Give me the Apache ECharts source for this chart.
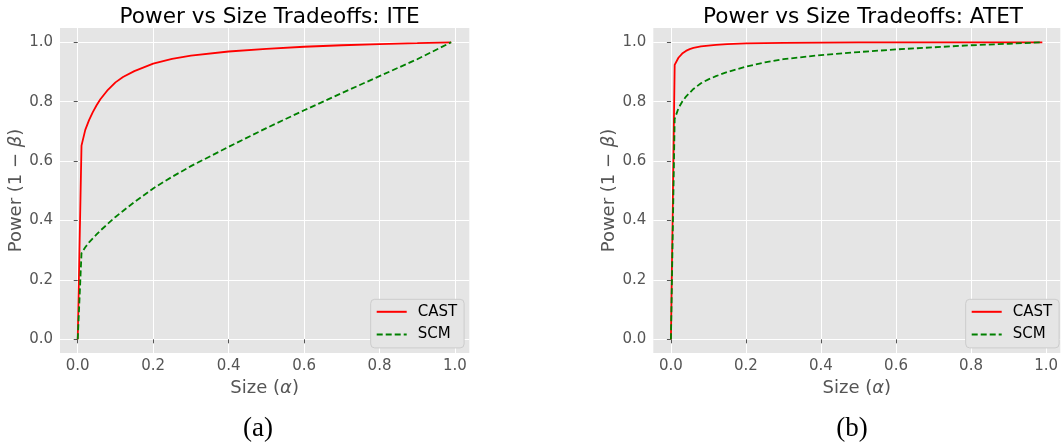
<!DOCTYPE html>
<html><head><meta charset="utf-8">
<script src="https://cdn.jsdelivr.net/npm/echarts@6/dist/echarts.min.js"></script>
<style>html,body{margin:0;padding:0;background:#fff}#c{width:1061px;height:444px}</style>
</head><body><div id="c"></div>
<script>
// Size (alpha) grid
const alpha = [0, 0.01, 0.02, 0.03, 0.04, 0.05, 0.06, 0.08, 0.1, 0.12, 0.15, 0.2, 0.25, 0.3, 0.4, 0.5, 0.6, 0.7, 0.8, 0.9, 0.99];
// Power values, panel (a) ITE
const iteCast = [0, 0.652, 0.705, 0.738, 0.765, 0.788, 0.808, 0.840, 0.865, 0.883, 0.903, 0.928, 0.944, 0.955, 0.969, 0.978, 0.985, 0.990, 0.994, 0.997, 1.0];
const iteScm  = [0, 0.29, 0.31, 0.326, 0.34, 0.353, 0.366, 0.389, 0.412, 0.432, 0.462, 0.508, 0.547, 0.583, 0.648, 0.711, 0.771, 0.829, 0.886, 0.943, 1.0];
// Power values, panel (b) ATET
const atetCast = [0, 0.924, 0.948, 0.962, 0.971, 0.977, 0.981, 0.986, 0.989, 0.991, 0.994, 0.996, 0.997, 0.998, 0.999, 0.9995, 1.0, 1.0, 1.0, 1.0, 1.0];
const atetScm  = [0, 0.742, 0.778, 0.80, 0.817, 0.83, 0.843, 0.862, 0.875, 0.886, 0.90, 0.918, 0.932, 0.943, 0.957, 0.967, 0.976, 0.983, 0.99, 0.995, 1.0];

const tickValues = [0, 0.2, 0.4, 0.6, 0.8, 1.0];
const titles = ['Power vs Size Tradeoffs: ITE', 'Power vs Size Tradeoffs: ATET'];
const captions = ['(a)', '(b)'];
const seriesNames = ['CAST', 'SCM'];
const xName = 'Size ({m|\u03b1})';
const yName = 'Power (1 \u2212 {m|\u03b2})';

const zip = (xs, ys) => xs.map((x, i) => [x, ys[i]]);
const panels = [[iteCast, iteScm], [atetCast, atetScm]];

const gridLeft = [60, 653.3];
const F = 'DejaVu Sans';
const mathRich = {m: {fontStyle: 'italic', fontSize: 18, color: '#555', fontFamily: F}};

const grid = gridLeft.map(l => ({left: l, top: 28, width: 409.3, height: 325, show: true,
  backgroundColor: '#e5e5e5', borderWidth: 0}));

const xAxis = gridLeft.map((l, i) => ({
  type: 'value', gridIndex: i, min: -0.047, max: 1.038,
  name: xName, nameLocation: 'middle', nameGap: 23,
  nameTextStyle: {color: '#555', fontSize: 18, fontFamily: F, rich: mathRich},
  axisLine: {show: false},
  axisTick: {show: true, length: 4, lineStyle: {color: '#555'}, customValues: tickValues},
  axisLabel: {customValues: tickValues, formatter: v => v.toFixed(1), color: '#555', fontSize: 15, fontFamily: F, margin: 6},
  splitLine: {show: true, lineStyle: {color: '#fff', width: 1}}
}));
const yAxis = gridLeft.map((l, i) => ({
  type: 'value', gridIndex: i, min: -0.0461, max: 1.0481,
  name: yName, nameLocation: 'middle', nameGap: 35,
  nameTextStyle: {color: '#555', fontSize: 18, fontFamily: F, rich: mathRich},
  axisLine: {show: false},
  axisTick: {show: true, length: 4, lineStyle: {color: '#555'}, customValues: tickValues},
  axisLabel: {customValues: tickValues, formatter: v => v.toFixed(1), color: '#555', fontSize: 15, fontFamily: F, margin: 7},
  splitLine: {show: true, lineStyle: {color: '#fff', width: 1}}
}));

const colors = ['#ff0000', '#008000'];
const dashes = ['solid', [6, 3]];
const series = [];
panels.forEach((p, i) => {
  p.forEach((vals, k) => {
    series.push({
      type: 'line', name: seriesNames[k], xAxisIndex: i, yAxisIndex: i,
      data: zip(alpha, vals), symbol: 'none', showSymbol: false,
      lineStyle: {color: colors[k], width: 1.8, type: dashes[k]},
      itemStyle: {color: colors[k]}, animation: false
    });
  });
});

const legendLeft = [370.7, 965.7];
const legend = legendLeft.map(l => ({
  data: seriesNames, orient: 'vertical', left: l, top: 299.3, selectedMode: false,
  itemWidth: 30, itemHeight: 14, itemGap: 7.6, padding: [5, 7, 6, 5],
  backgroundColor: '#e5e5e5', borderColor: '#cccccc', borderWidth: 1, borderRadius: 4,
  itemStyle: {opacity: 0},
  textStyle: {fontSize: 15, color: '#000', fontFamily: F, padding: [0, 0, 0, 6]}
}));

const titleCenters = [264.6, 858];
const title = titleCenters.map((c, i) => ({
  text: titles[i], left: c, top: 1, textAlign: 'center',
  textStyle: {fontSize: 21.6, fontWeight: 'normal', color: '#000', fontFamily: F}
}));

const capCenters = [258, 852];
const graphic = capCenters.map((c, i) => ({
  type: 'text', x: c, y: 429,
  style: {text: captions[i], textAlign: 'center', textVerticalAlign: 'middle',
    font: '27px "Liberation Serif", serif', fill: '#000'}
}));

const chart = echarts.init(document.getElementById('c'), null, {renderer: 'canvas'});
chart.setOption({animation: false, title, grid, xAxis, yAxis, series, legend, graphic});
</script></body></html>
